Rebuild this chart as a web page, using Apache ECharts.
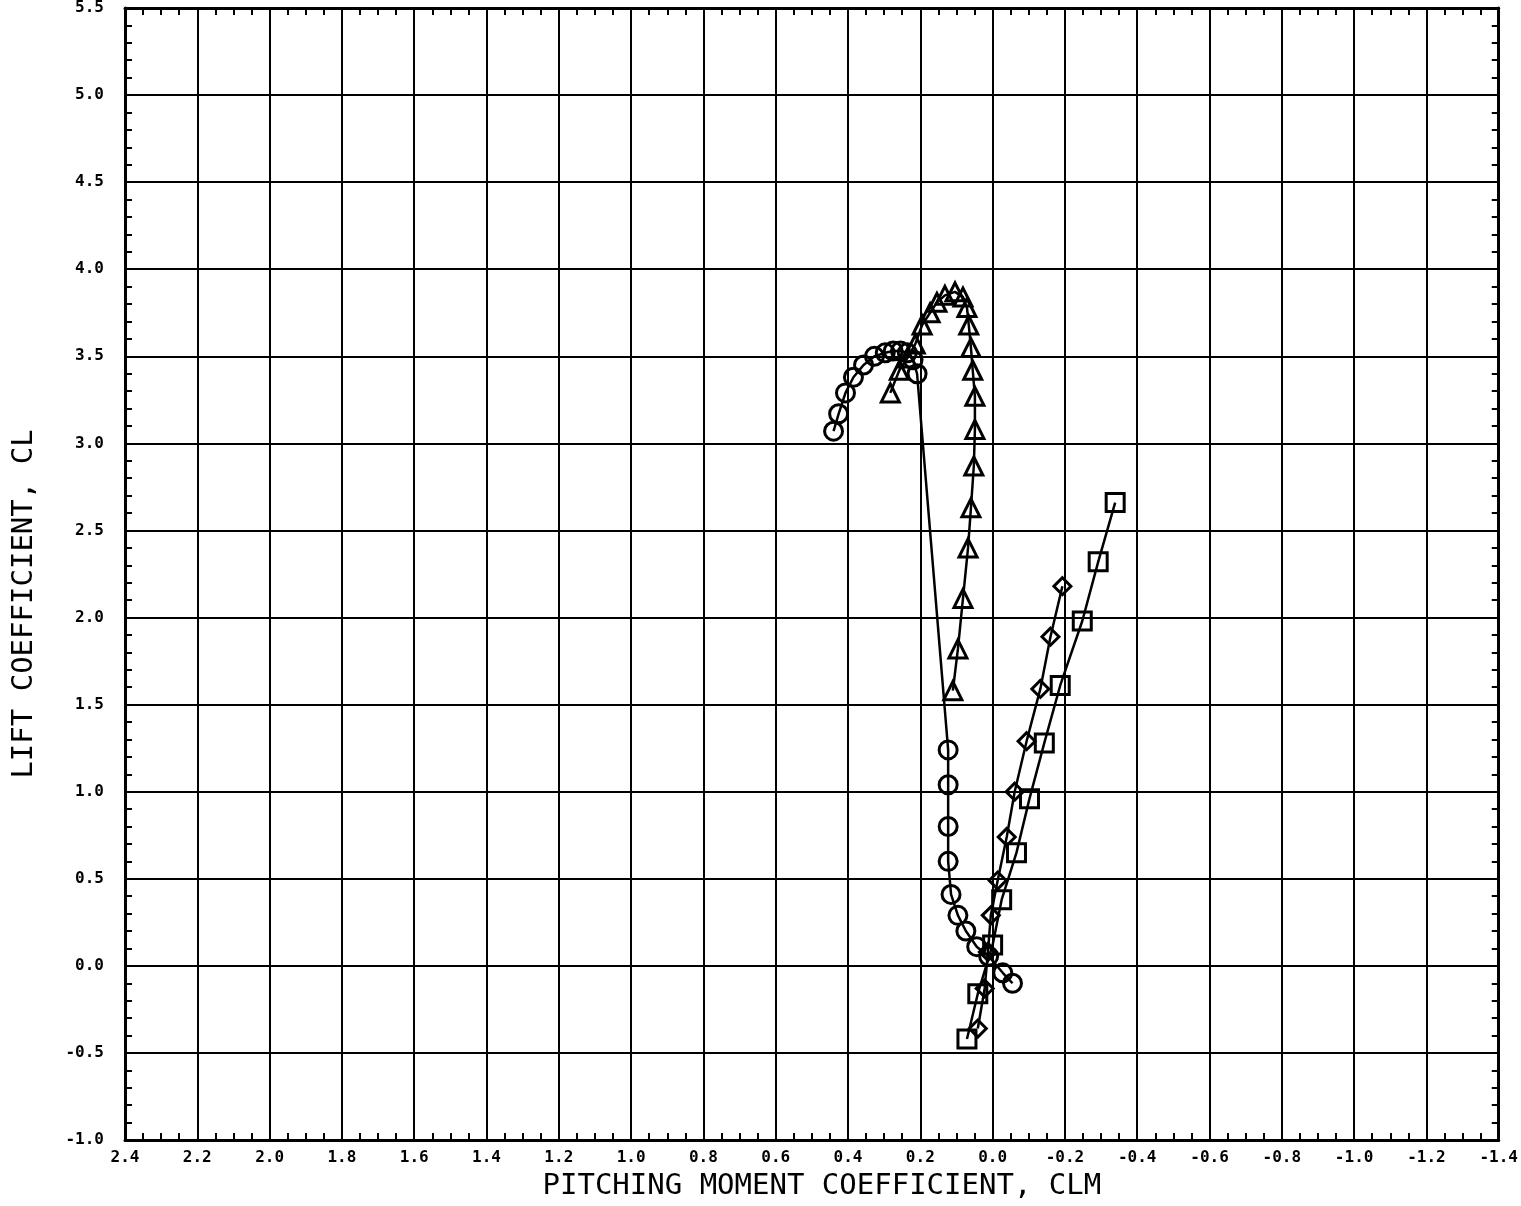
<!DOCTYPE html>
<html>
<head>
<meta charset="utf-8">
<script src="https://cdn.jsdelivr.net/npm/echarts@6/dist/echarts.min.js"></script>
<style>
  html, body { margin: 0; padding: 0; background: #fff; overflow: hidden; width: 100%; height: 100%; }
  #main { width: 100vw; height: 100vh; }
</style>
</head>
<body>
<div id="main"></div>
<script>
// circles
var circleCLM = [0.44, 0.426, 0.407, 0.385, 0.357, 0.327, 0.297, 0.275, 0.255, 0.236, 0.22, 0.209,
                 0.123, 0.123, 0.123, 0.123, 0.115, 0.096, 0.074, 0.044, 0.011, -0.028, -0.055];
var circleCL  = [3.07, 3.17, 3.29, 3.38, 3.45, 3.50, 3.52, 3.53, 3.53, 3.52, 3.48, 3.40,
                 1.24, 1.04, 0.80, 0.60, 0.41, 0.29, 0.20, 0.11, 0.055, -0.04, -0.10];
// triangles
var triCLM = [0.283, 0.258, 0.236, 0.214, 0.195, 0.173, 0.154, 0.132, 0.104, 0.082, 0.071,
              0.066, 0.060, 0.055, 0.049, 0.049, 0.052, 0.060, 0.068, 0.082, 0.096, 0.110];
var triCL  = [3.29, 3.42, 3.49, 3.57, 3.68, 3.75, 3.81, 3.85, 3.87, 3.84, 3.78,
              3.68, 3.55, 3.42, 3.27, 3.08, 2.87, 2.63, 2.40, 2.11, 1.82, 1.58];
// diamonds
var diaCLM = [-0.193, -0.160, -0.132, -0.094, -0.061, -0.039, -0.014, 0.005, 0.013, 0.022, 0.041];
var diaCL  = [2.18, 1.89, 1.59, 1.29, 1.00, 0.74, 0.49, 0.29, 0.08, -0.13, -0.36];
// squares
var sqCLM = [-0.339, -0.292, -0.248, -0.187, -0.143, -0.102, -0.066, -0.025, 0.0, 0.041, 0.071];
var sqCL  = [2.66, 2.32, 1.98, 1.61, 1.28, 0.96, 0.65, 0.38, 0.12, -0.16, -0.42];

var xMin = -1.4, xMax = 2.4, xStep = 0.2;
var yMin = -1.0, yMax = 5.5, yStep = 0.5;

function pairs(xs, ys) {
  var d = [];
  for (var i = 0; i < xs.length; i++) d.push([xs[i], ys[i]]);
  return d;
}
function fmt(v) {
  if (Math.abs(v) < 1e-9) return '0.0';
  return v.toFixed(1);
}

var labelFont = { color: '#000', fontFamily: 'DejaVu Sans Mono', fontWeight: 'bold', fontSize: 16 };
var nameFont = { color: '#000', fontFamily: 'DejaVu Sans Mono', fontSize: 29 };
var tickLine = { color: '#000', width: 2 };
var inTick = { show: true, inside: true, length: 7, lineStyle: tickLine };

function mkSeries(name, symbol, size, xs, ys) {
  return {
    name: name,
    type: 'line',
    xAxisIndex: 0,
    yAxisIndex: 0,
    data: pairs(xs, ys),
    symbol: symbol,
    symbolSize: size,
    showSymbol: true,
    lineStyle: { color: '#000', width: 2.5 },
    itemStyle: { color: 'rgba(255,255,255,0)', borderColor: '#000', borderWidth: 3 },
    emphasis: { disabled: true },
    z: 5
  };
}

var myChart = echarts.init(document.getElementById('main'), null, { renderer: 'canvas' });
var option = {
  animation: false,
  backgroundColor: '#fff',
  grid: { left: 125, right: 14, top: 5, bottom: 62, containLabel: false },
  xAxis: [
    {
      type: 'value', position: 'bottom', inverse: true,
      min: xMin, max: xMax, interval: xStep,
      name: 'PITCHING MOMENT COEFFICIENT, CLM',
      nameLocation: 'middle', nameGap: 32,
      nameTextStyle: Object.assign({ padding: [0, 0, 0, 20] }, nameFont),
      axisLine: { onZero: false, lineStyle: { color: '#000', width: 3 } },
      axisTick: inTick,
      minorTick: { show: true, splitNumber: 4, length: 7, lineStyle: tickLine },
      axisLabel: Object.assign({ margin: 10, formatter: fmt }, labelFont),
      splitLine: { show: true, lineStyle: { color: '#000', width: 2 } }
    },
    {
      type: 'value', position: 'top', inverse: true,
      min: xMin, max: xMax, interval: xStep,
      axisLine: { onZero: false, lineStyle: { color: '#000', width: 3 } },
      axisTick: inTick,
      minorTick: { show: true, splitNumber: 4, length: 7, lineStyle: tickLine },
      axisLabel: { show: false },
      splitLine: { show: false }
    }
  ],
  yAxis: [
    {
      type: 'value', position: 'left',
      min: yMin, max: yMax, interval: yStep,
      name: 'LIFT COEFFICIENT, CL',
      nameLocation: 'middle', nameGap: 86,
      nameTextStyle: Object.assign({ padding: [0, 60, 0, 0] }, nameFont),
      axisLine: { onZero: false, lineStyle: { color: '#000', width: 3 } },
      axisTick: inTick,
      minorTick: { show: true, splitNumber: 5, length: 7, lineStyle: tickLine },
      axisLabel: Object.assign({ margin: 21, formatter: fmt }, labelFont),
      splitLine: { show: true, lineStyle: { color: '#000', width: 2 } }
    },
    {
      type: 'value', position: 'right',
      min: yMin, max: yMax, interval: yStep,
      axisLine: { onZero: false, lineStyle: { color: '#000', width: 3 } },
      axisTick: inTick,
      minorTick: { show: true, splitNumber: 5, length: 7, lineStyle: tickLine },
      axisLabel: { show: false },
      splitLine: { show: false }
    }
  ],
  series: [
    mkSeries('circle', 'circle', 18, circleCLM, circleCL),
    mkSeries('triangle', 'triangle', 18, triCLM, triCL),
    mkSeries('diamond', 'diamond', 17, diaCLM, diaCL),
    mkSeries('square', 'rect', 18, sqCLM, sqCL)
  ]
};
myChart.setOption(option);
</script>
</body>
</html>
